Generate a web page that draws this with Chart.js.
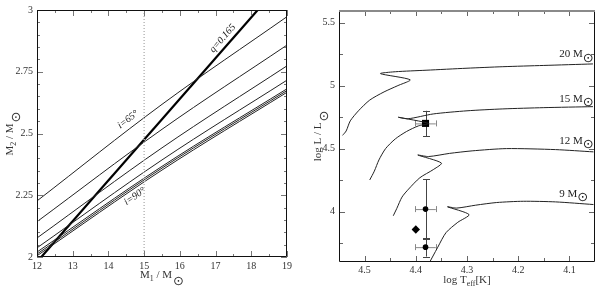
<!DOCTYPE html>
<html><head><meta charset="utf-8">
<script src="https://cdn.jsdelivr.net/npm/chart.js@4/dist/chart.umd.min.js"></script>
<style>
html,body{margin:0;padding:0;background:#fff;}
#wrap{position:relative;width:600px;height:288px;overflow:hidden;}
canvas{position:absolute;top:0;}
#c1{left:0;} #c2{left:300px;}
</style></head>
<body><div id="wrap"><canvas id="c1" width="300" height="288"></canvas><canvas id="c2" width="300" height="288"></canvas></div>
<script>
// ---------- Left panel data (M1 vs M2) ----------
const m1Points = [12, 15.5, 19];
const incLineAtStart = [2.227, 2.143, 2.077, 2.037, 2.020, 2.012, 2.005];
const incLineAtMid   = [2.618, 2.517, 2.442, 2.393, 2.367, 2.360, 2.352];
const incLineAtEnd   = [2.973, 2.858, 2.774, 2.716, 2.681, 2.674, 2.667];
const qLineM1 = [12.12, 18.18];
const qLineM2 = [2.0, 3.0];
const refM1 = [15, 15];
const refM2 = [2, 3];
const leftXTicks = [12, 13, 14, 15, 16, 17, 18, 19];
const leftXTickLabels = ['12', '13', '14', '15', '16', '17', '18', '19'];
const leftYTicks = [2, 2.25, 2.5, 2.75, 3];
const leftYTickLabels = ['2', '2.25', '2.5', '2.75', '3'];

// ---------- Right panel data (HR diagram) ----------
const track20T = [4.543, 4.536, 4.528, 4.512, 4.490, 4.462, 4.435, 4.411, 4.469, 4.440, 4.380, 4.300, 4.230, 4.150, 4.054];
const track20L = [4.605, 4.640, 4.720, 4.800, 4.885, 4.950, 5.000, 5.046, 5.095, 5.110, 5.122, 5.138, 5.150, 5.160, 5.172];
const track15T = [4.490, 4.481, 4.472, 4.459, 4.440, 4.418, 4.395, 4.375, 4.434, 4.415, 4.366, 4.300, 4.230, 4.150, 4.054];
const track15L = [4.251, 4.321, 4.410, 4.500, 4.577, 4.636, 4.680, 4.700, 4.749, 4.737, 4.775, 4.800, 4.815, 4.825, 4.833];
const track12T = [4.444, 4.437, 4.427, 4.414, 4.392, 4.366, 4.350, 4.396, 4.375, 4.334, 4.290, 4.223, 4.127, 4.053];
const track12L = [3.967, 4.026, 4.115, 4.179, 4.269, 4.333, 4.385, 4.449, 4.437, 4.462, 4.482, 4.500, 4.492, 4.474];
const track9T  = [4.378, 4.357, 4.341, 4.318, 4.296, 4.338, 4.320, 4.283, 4.242, 4.190, 4.127, 4.053];
const track9L  = [3.560, 3.718, 3.833, 3.915, 3.976, 4.038, 4.028, 4.051, 4.072, 4.082, 4.077, 4.056];
const trackNames = ['20', '15', '12', '9'];
const trackLabelL = [5.225, 4.872, 4.538, 4.115];

const squareT = [4.381], squareL = [4.70], squareTErr = [0.02], squareLErr = [0.10];
const circleT = [4.381, 4.381], circleL = [4.02, 3.718], circleTErr = [0.02, 0.02], circleLErr = [0.235, 0.075];
const diamondT = [4.40], diamondL = [3.858];

const rightXTicks = [4.5, 4.4, 4.3, 4.2, 4.1];
const rightXTickLabels = ['4.5', '4.4', '4.3', '4.2', '4.1'];
const rightYTicks = [4, 4.5, 5, 5.5];
const rightYTickLabels = ['4', '4.5', '5', '5.5'];

// ---------- helpers ----------
const SERIF = "'Liberation Serif','Times New Roman',serif";
const SUNFONT = "'DejaVu Sans',sans-serif";
Chart.defaults.font.family = SERIF;
Chart.defaults.color = '#333';

const pts = (xs, ys) => xs.map((x, i) => ({x, y: ys[i]}));

function range(a, b, step) { const r = []; for (let v = a; v <= b + 1e-9; v += step) r.push(+v.toFixed(4)); return r; }

function drawRich(ctx, parts, x, y, rot, size) {
  ctx.save();
  ctx.translate(x, y);
  ctx.rotate(rot);
  ctx.textBaseline = 'alphabetic';
  ctx.textAlign = 'left';
  const sunSize = size + 2;
  const widths = parts.map(p => {
    if (p.sun) { ctx.font = sunSize + 'px ' + SUNFONT; return ctx.measureText('\u2299').width + 1; }
    ctx.font = (p.sub ? size * 0.72 : size) + 'px ' + SERIF;
    return ctx.measureText(p.t).width;
  });
  const total = widths.reduce((a, b) => a + b, 0);
  let cx = -total / 2;
  ctx.fillStyle = '#333';
  parts.forEach((p, i) => {
    if (p.sun) {
      ctx.font = sunSize + 'px ' + SUNFONT;
      ctx.textBaseline = 'middle';
      ctx.fillText('\u2299', cx + 1, 4);
      ctx.textBaseline = 'alphabetic';
    } else if (p.sub) {
      ctx.font = (size * 0.72) + 'px ' + SERIF;
      ctx.fillText(p.t, cx, 3);
    } else {
      ctx.font = size + 'px ' + SERIF;
      ctx.fillText(p.t, cx, 0);
    }
    cx += widths[i];
  });
  ctx.restore();
}

function frameTicks(spec) {
  return {
    id: 'frameTicks',
    afterDraw(chart) {
      const {ctx, chartArea: a, scales} = chart;
      const xs = scales.x, ys = scales.y;
      ctx.save();
      ctx.lineWidth = 1;
      ctx.strokeStyle = spec.tickColor;
      const tx = (vals, len) => vals.forEach(v => {
        const p = Math.round(xs.getPixelForValue(v)) + 0.5;
        ctx.beginPath();
        ctx.moveTo(p, a.bottom); ctx.lineTo(p, a.bottom - len);
        ctx.moveTo(p, a.top); ctx.lineTo(p, a.top + len);
        ctx.stroke();
      });
      const ty = (vals, len) => vals.forEach(v => {
        const p = Math.round(ys.getPixelForValue(v)) + 0.5;
        ctx.beginPath();
        ctx.moveTo(a.left, p); ctx.lineTo(a.left + len, p);
        ctx.moveTo(a.right, p); ctx.lineTo(a.right - len, p);
        ctx.stroke();
      });
      tx(spec.xMajor, spec.majorLen); tx(spec.xMinor, spec.minorLen);
      ty(spec.yMajor, spec.majorLen); ty(spec.yMinor, spec.minorLen);
      const L = Math.round(a.left) + 0.5, R = Math.round(a.right) - 0.5, T = Math.round(a.top) + 0.5, B = Math.round(a.bottom) - 0.5;
      ctx.strokeStyle = '#111';
      ctx.beginPath(); ctx.moveTo(L, T); ctx.lineTo(L, B); ctx.lineTo(R, B); ctx.lineTo(R, T); ctx.stroke();
      ctx.strokeStyle = spec.topColor; ctx.lineWidth = spec.topWidth;
      ctx.beginPath(); ctx.moveTo(L - 0.5, T + (spec.topWidth - 1) / 2); ctx.lineTo(R + 0.5, T + (spec.topWidth - 1) / 2); ctx.stroke();
      ctx.restore();
      if (spec.after) spec.after(chart);
    }
  };
}

function axisSetup(min, max, tickVals, tickLabels, fitKey, fitVal, padding, reverse) {
  return {
    type: 'linear', min, max, reverse: !!reverse,
    grid: {display: false, drawTicks: false},
    border: {display: false},
    afterFit: s => { s[fitKey] = fitVal; },
    afterBuildTicks: s => { s.ticks = tickVals.map(v => ({value: v})); },
    ticks: {padding, font: {size: 10}, color: '#333', autoSkip: false, maxRotation: 0,
            callback: (v, i) => tickLabels[i]}
  };
}

const baseOpts = {
  responsive: false, animation: false, devicePixelRatio: 1,
  plugins: {legend: {display: false}, tooltip: {enabled: false}},
  elements: {point: {radius: 0}}
};

// ---------- Left chart ----------
const leftDatasets = incLineAtStart.map((v, i) => ({
  data: pts(m1Points, [v, incLineAtMid[i], incLineAtEnd[i]]), showLine: true,
  borderColor: '#222', borderWidth: 1, pointRadius: 0, tension: 0.35
}));
leftDatasets.unshift({data: pts(refM1, refM2), showLine: true, borderColor: '#b8b8b8', borderWidth: 1.5, borderDash: [1, 2], pointRadius: 0});
leftDatasets.push({data: pts(qLineM1, qLineM2), showLine: true, borderColor: '#000', borderWidth: 2.2, pointRadius: 0});

const leftNotes = [
  {t: 'q=0.165', x: 17.2, y: 2.885, rot: -49, size: 10},
  {t: 'i=65\u00b0', x: 14.55, y: 2.556, rot: -37, size: 10},
  {t: 'i=90\u00b0', x: 14.74, y: 2.245, rot: -34, size: 10}
];

new Chart(document.getElementById('c1'), {
  type: 'scatter',
  data: {datasets: leftDatasets},
  options: Object.assign({}, baseOpts, {
    layout: {padding: {top: 6, right: 13, left: 0, bottom: 0}},
    scales: {
      x: axisSetup(12, 19, leftXTicks, leftXTickLabels, 'height', 31, 3),
      y: axisSetup(2, 3, leftYTicks, leftYTickLabels, 'width', 37, 4)
    }
  }),
  plugins: [frameTicks({
    tickColor: '#777', majorLen: 6, minorLen: 3, topColor: '#111', topWidth: 1,
    xMajor: leftXTicks, xMinor: range(12.5, 18.5, 1),
    yMajor: leftYTicks, yMinor: range(2.05, 2.95, 0.05).filter(v => Math.abs(v * 4 - Math.round(v * 4)) > 1e-6),
    after(chart) {
      const {ctx, scales: {x, y}, chartArea: a} = chart;
      ctx.save();
      leftNotes.forEach(n => {
        ctx.save();
        ctx.translate(x.getPixelForValue(n.x), y.getPixelForValue(n.y));
        ctx.rotate(n.rot * Math.PI / 180);
        ctx.font = 'italic ' + n.size + 'px ' + SERIF;
        ctx.fillStyle = '#222'; ctx.textAlign = 'center'; ctx.textBaseline = 'middle';
        ctx.fillText(n.t, 0, 0);
        ctx.restore();
      });
      ctx.restore();
      drawRich(ctx, [{t: 'M'}, {t: '1', sub: true}, {t: ' / M'}, {sun: true}], (a.left + a.right) / 2, 278, 0, 11);
      drawRich(ctx, [{t: 'M'}, {t: '2', sub: true}, {t: ' / M'}, {sun: true}], 13, (a.top + a.bottom) / 2, -Math.PI / 2, 11);
    }
  })]
});

// ---------- Right chart ----------
const trackStyle = {showLine: true, borderColor: '#222', borderWidth: 1, pointRadius: 0, tension: 0.25};
const errorBars = {
  id: 'errorBars',
  beforeDatasetsDraw(chart) {
    const {ctx, scales: {x, y}} = chart;
    ctx.save();
    const bars = (ts, ls, te, le) => ts.forEach((t, i) => {
      const px = x.getPixelForValue(t), py = y.getPixelForValue(ls[i]);
      const x1 = x.getPixelForValue(t + te[i]), x2 = x.getPixelForValue(t - te[i]);
      ctx.strokeStyle = '#888'; ctx.lineWidth = 1;
      ctx.beginPath();
      ctx.moveTo(x1, py + 0.5); ctx.lineTo(x2, py + 0.5);
      ctx.moveTo(Math.round(x1) + 0.5, py - 3); ctx.lineTo(Math.round(x1) + 0.5, py + 3);
      ctx.moveTo(Math.round(x2) + 0.5, py - 3); ctx.lineTo(Math.round(x2) + 0.5, py + 3);
      ctx.stroke();
      const y1 = y.getPixelForValue(ls[i] + le[i]), y2 = y.getPixelForValue(ls[i] - le[i]);
      const vx = Math.round(px) + 0.5;
      ctx.strokeStyle = '#444';
      ctx.beginPath();
      ctx.moveTo(vx, y1); ctx.lineTo(vx, y2);
      ctx.moveTo(vx - 3.5, Math.round(y1) + 0.5); ctx.lineTo(vx + 3.5, Math.round(y1) + 0.5);
      ctx.moveTo(vx - 3.5, Math.round(y2) + 0.5); ctx.lineTo(vx + 3.5, Math.round(y2) + 0.5);
      ctx.stroke();
    });
    bars(squareT, squareL, squareTErr, squareLErr);
    bars(circleT, circleL, circleTErr, circleLErr);
    ctx.restore();
  }
};

new Chart(document.getElementById('c2'), {
  type: 'scatter',
  data: {datasets: [
    Object.assign({data: pts(track20T, track20L)}, trackStyle),
    Object.assign({data: pts(track15T, track15L)}, trackStyle),
    Object.assign({data: pts(track12T, track12L)}, trackStyle),
    Object.assign({data: pts(track9T, track9L)}, trackStyle),
    {data: pts(squareT, squareL), pointStyle: 'rect', pointRadius: 5, backgroundColor: '#000', borderColor: '#000', borderWidth: 0},
    {data: pts(circleT, circleL), pointStyle: 'circle', pointRadius: 2.8, backgroundColor: '#000', borderColor: '#000', borderWidth: 0},
    {data: pts(diamondT, diamondL), pointStyle: 'rectRot', pointRadius: 4.2, backgroundColor: '#000', borderColor: '#000', borderWidth: 0}
  ]},
  options: Object.assign({}, baseOpts, {
    layout: {padding: {top: 3, right: 2, left: 0, bottom: 0}},
    scales: {
      x: axisSetup(4.05, 4.55, rightXTicks, rightXTickLabels, 'height', 26, 2, true),
      y: axisSetup(3.6, 5.6, rightYTicks, rightYTickLabels, 'width', 39, 4)
    }
  }),
  plugins: [errorBars, frameTicks({
    tickColor: '#666', majorLen: 6, minorLen: 4, topColor: '#8a8a8a', topWidth: 2,
    xMajor: rightXTicks, xMinor: [4.45, 4.35, 4.25, 4.15],
    yMajor: rightYTicks, yMinor: [3.75, 4.25, 4.75, 5.25],
    after(chart) {
      const {ctx, scales: {x, y}, chartArea: a} = chart;
      ctx.save();
      trackNames.forEach((n, i) => {
        const px = x.getPixelForValue(4.12), py = y.getPixelForValue(trackLabelL[i]);
        ctx.font = '11px ' + SERIF; ctx.fillStyle = '#222';
        ctx.textAlign = 'left'; ctx.textBaseline = 'alphabetic';
        const s = n + ' M';
        ctx.fillText(s, px, py);
        const w = ctx.measureText(s).width;
        ctx.font = '13px ' + SUNFONT; ctx.textAlign = 'center'; ctx.textBaseline = 'middle';
        ctx.fillText('\u2299', px + w + 5.5, py + 1);
      });
      ctx.restore();
      drawRich(ctx, [{t: 'log T'}, {t: 'eff', sub: true}, {t: '[K]'}], (a.left + a.right) / 2, 283, 0, 11);
      drawRich(ctx, [{t: 'log L / L'}, {sun: true}], 21, (a.top + a.bottom) / 2, -Math.PI / 2, 11);
    }
  })]
});
</script>
</body></html>
